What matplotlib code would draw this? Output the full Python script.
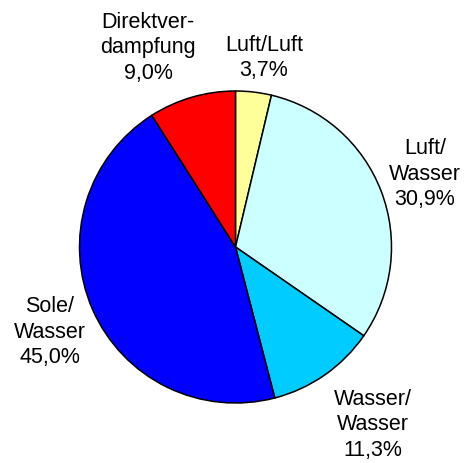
import matplotlib
matplotlib.use("Agg")
import matplotlib.pyplot as plt

# Anteile der Wärmepumpen-Bauarten
labels = ["Luft/Luft", "Luft/\nWasser", "Wasser/\nWasser", "Sole/\nWasser", "Direktver-\ndampfung"]
shares = [3.7, 30.9, 11.3, 45.0, 9.0]
colors = ["#FFFF99", "#CCFFFF", "#00CCFF", "#0000FF", "#FF0000"]

# Textpositionen (Pixel im Bild, Mittelpunkt des Textblocks)
label_px = [(264, 58), (425, 174), (373, 425), (50, 332), (148, 48)]

W, H = 465, 463
CX, CY, R = 235.5, 247, 156

plt.rcParams["font.family"] = ["Liberation Sans", "DejaVu Sans"]

fig = plt.figure(figsize=(W / 100, H / 100), dpi=100)
ax = fig.add_axes([0, 0, 1, 1])

ax.pie(shares, colors=colors, startangle=90, counterclock=False,
       wedgeprops=dict(edgecolor="black", linewidth=1.1))

for lab, val, (px, py) in zip(labels, shares, label_px):
    text = lab + "\n" + f"{val:.1f}%".replace(".", ",")
    ax.text((px - CX) / R, (CY - py) / R, text, ha="center", va="center",
            fontsize=15.5, linespacing=1.3)

ax.set_xlim(-CX / R, (W - CX) / R)
ax.set_ylim((CY - H) / R, CY / R)
ax.set_aspect("auto")
ax.axis("off")

fig.savefig("out.png", dpi=100)
